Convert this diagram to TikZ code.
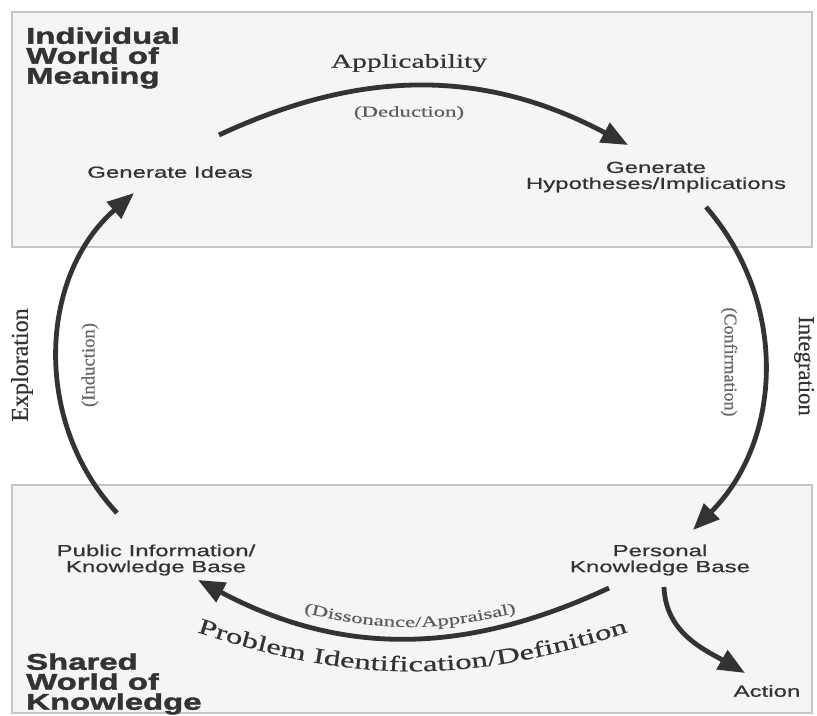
\documentclass[tikz,border=0pt]{standalone}
\usepackage{fontspec}
\setmainfont[FakeStretch=1.5,FakeBold=0.5]{Liberation Serif}
\setsansfont[FakeStretch=1.5,FakeBold=0.8]{Liberation Sans}
\newfontfamily\rotserif[FakeBold=0.5]{Liberation Serif}
\newfontfamily\titlefont[FakeStretch=1.45,FakeBold=1.8]{Liberation Sans}
\usetikzlibrary{arrows.meta,decorations.text}
\definecolor{ink}{HTML}{333333}
\definecolor{boxfill}{HTML}{F5F5F5}

\begin{document}
\begin{tikzpicture}[x=0.75pt,y=0.75pt,
    cyclearrow/.style={draw=ink, line width=3.6pt, -{Triangle[length=20pt,width=16pt]}},
    stage/.style={font=\sffamily\fontsize{12}{12}\selectfont, text=ink, align=center, inner sep=0pt},
    world/.style={fill=boxfill, draw=gray!45, line width=0.8pt},
    bigtitle/.style={font=\titlefont\bfseries\fontsize{17}{15}\selectfont, text=ink, align=left, anchor=north west, inner sep=0pt},
    mode/.style={font=\fontsize{14.8}{16}\selectfont, text=ink},
    why/.style={font=\fontsize{11.4}{12}\selectfont, text=ink!80}]
    \useasboundingbox (0,0) rectangle (817,-715);

    % the two worlds
    \draw[world] (12,-12) rectangle (812,-247);
    \draw[world] (12,-485) rectangle (812,-713);
    \node[bigtitle] (indiv) at (26,-27) {Individual\\World of\\Meaning};
    \node[bigtitle] (shared) at (26,-653) {Shared\\World of\\Knowledge};

    % stages
    \node[stage] (ideas) at (170,-172) {Generate Ideas};
    \node[stage] (hypo) at (656,-177) {Generate\\Hypotheses/Implications};
    \node[stage] (public) at (156,-560) {Public Information/\\Knowledge Base};
    \node[stage] (personal) at (660,-560) {Personal\\Knowledge Base};
    \node[stage] (action) at (767,-691) {Action};

    % cycle
    \draw[cyclearrow] ([shift={(49,37)}]ideas.center) to[out=25,in=152] ([shift={(-28,32)}]hypo.center);
    \draw[cyclearrow] ([shift={(50,-30)}]hypo.center) to[out=-49,in=45] ([shift={(33,30)}]personal.center);
    \draw[cyclearrow] ([shift={(-51,-28)}]personal.center) to[out=205,in=-28] ([shift={(42,-20)}]public.center);
    \draw[cyclearrow] ([shift={(-39,47)}]public.center) to[out=133,in=-139] ([shift={(-36,-21)}]ideas.center);
    \draw[cyclearrow] ([shift={(4,-27)}]personal.center) to[out=-88,in=150] ([shift={(-22,18)}]action.center);

    % labels of the arcs
    \node[mode] (appl) at (409,-63) {Applicability};
    \node[why] (ded) at (409,-113) {(Deduction)};
    \node[font=\rotserif\fontsize{18}{20}\selectfont, text=ink, rotate=90] (expl) at (22,-365) {Exploration};
    \node[font=\rotserif\fontsize{14}{16}\selectfont, text=ink!75, rotate=90] (ind) at (90,-365) {(Induction)};
    \node[font=\rotserif\fontsize{13.5}{16}\selectfont, text=ink!75, rotate=-90] (conf) at (729,-362) {(Confirmation)};
    \node[font=\rotserif\fontsize{17}{19}\selectfont, text=ink, rotate=-90] (integ) at (804,-366) {Integration};
    \path[decorate, decoration={text along path, text align=center, text color=ink!80,
        text={|\fontsize{11.4}{12}\selectfont|(Dissonance/Appraisal)}}] (280,-606) to[out=-16,in=196] (540,-606);
    \path[decorate, decoration={text along path, text align=center, text color=ink,
        text={|\fontsize{16.4}{18}\selectfont|Problem Identification/Definition}}] (185,-628) to[out=-19,in=199] (640,-628);
\end{tikzpicture}
\end{document}
